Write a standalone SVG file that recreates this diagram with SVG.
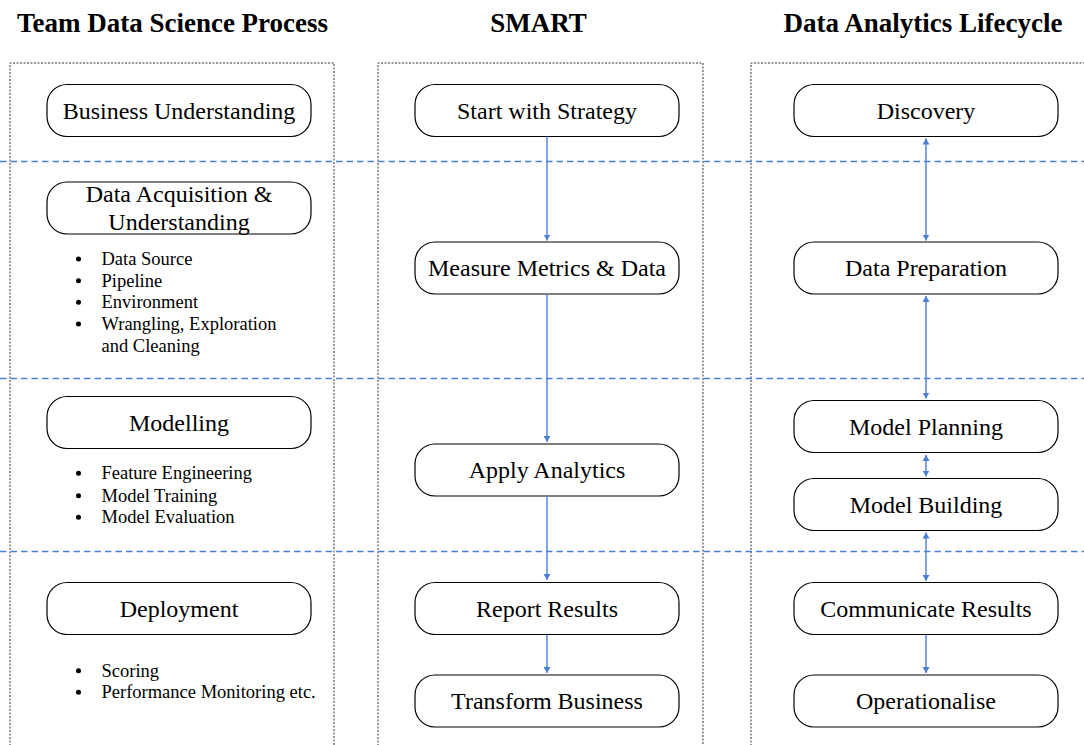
<svg xmlns="http://www.w3.org/2000/svg" width="1084" height="745" viewBox="0 0 1084 745">
<style>
.title{font-family:"Liberation Serif","Times New Roman",serif;font-weight:bold;font-size:27px;fill:#000;text-anchor:middle}
.node rect{fill:#fff;stroke:#000;stroke-width:1.2}
.node text{font-family:"Liberation Serif","Times New Roman",serif;font-size:24px;fill:#000;text-anchor:middle}
.bul{font-family:"Liberation Serif","Times New Roman",serif;font-size:18.5px;fill:#000}
.box{fill:none;stroke:#333;stroke-width:1;stroke-dasharray:2 1.5}
.sep{stroke:#4a7fd6;stroke-width:1.4;stroke-dasharray:6.5 4;fill:none}
.conn line{stroke:#4a7fd6;stroke-width:1.4;fill:none}
.dot{fill:#000}
</style>
<defs>
<marker id="ah" markerUnits="userSpaceOnUse" markerWidth="7" markerHeight="8" refX="6" refY="3.5" orient="auto-start-reverse" viewBox="0 0 7 7">
<path d="M0,0 L6,3.5 L0,7 z" fill="#4a7fd6"/>
</marker>
</defs>

<g id="titles">
<text class="title" x="172.5" y="32">Team Data Science Process</text>
<text class="title" x="538.5" y="32">SMART</text>
<text class="title" x="923" y="32">Data Analytics Lifecycle</text>
</g>

<g id="containers">
<path class="box" d="M10,760 V63 H334 V760"/>
<path class="box" d="M378,760 V63 H703 V760"/>
<path class="box" d="M751,760 V63 H1100"/>
</g>

<g id="separators">
<line class="sep" x1="0" y1="161.5" x2="1084" y2="161.5"/>
<line class="sep" x1="0" y1="378.5" x2="1084" y2="378.5"/>
<line class="sep" x1="0" y1="551.5" x2="1084" y2="551.5"/>
</g>

<g id="tdsp-business" class="node"><rect x="47" y="84.5" width="264" height="52" rx="20"/><text x="179" y="118.5">Business Understanding</text></g>
<g id="tdsp-data" class="node"><rect x="47" y="182" width="264" height="52" rx="20"/><text x="179" y="202">Data Acquisition &amp;</text><text x="179" y="230">Understanding</text></g>
<g id="tdsp-data-bullets">
<circle class="dot" cx="78.5" cy="259" r="2.5"/><text class="bul" x="101.5" y="265">Data Source</text>
<circle class="dot" cx="78.5" cy="280.7" r="2.5"/><text class="bul" x="101.5" y="286.7">Pipeline</text>
<circle class="dot" cx="78.5" cy="302.3" r="2.5"/><text class="bul" x="101.5" y="308.3">Environment</text>
<circle class="dot" cx="78.5" cy="324" r="2.5"/><text class="bul" x="101.5" y="330">Wrangling, Exploration</text>
<text class="bul" x="101.5" y="352">and Cleaning</text>
</g>
<g id="tdsp-modelling" class="node"><rect x="47" y="396.5" width="264" height="52" rx="20"/><text x="179" y="430.5">Modelling</text></g>
<g id="tdsp-modelling-bullets">
<circle class="dot" cx="78.5" cy="473.3" r="2.5"/><text class="bul" x="101.5" y="479.3">Feature Engineering</text>
<circle class="dot" cx="78.5" cy="495.7" r="2.5"/><text class="bul" x="101.5" y="501.7">Model Training</text>
<circle class="dot" cx="78.5" cy="517.3" r="2.5"/><text class="bul" x="101.5" y="523.3">Model Evaluation</text>
</g>
<g id="tdsp-deployment" class="node"><rect x="47" y="582.5" width="264" height="52" rx="20"/><text x="179" y="616.5">Deployment</text></g>
<g id="tdsp-deployment-bullets">
<circle class="dot" cx="78.5" cy="670.7" r="2.5"/><text class="bul" x="101.5" y="676.7">Scoring</text>
<circle class="dot" cx="78.5" cy="692.3" r="2.5"/><text class="bul" x="101.5" y="698.3">Performance Monitoring etc.</text>
</g>

<g id="smart-start" class="node"><rect x="415" y="84.5" width="264" height="52" rx="20"/><text x="547" y="118.5">Start with Strategy</text></g>
<g id="smart-measure" class="node"><rect x="415" y="242" width="264" height="52" rx="20"/><text x="547" y="276">Measure Metrics &amp; Data</text></g>
<g id="smart-apply" class="node"><rect x="415" y="444" width="264" height="52" rx="20"/><text x="547" y="478">Apply Analytics</text></g>
<g id="smart-report" class="node"><rect x="415" y="582.5" width="264" height="52" rx="20"/><text x="547" y="616.5">Report Results</text></g>
<g id="smart-transform" class="node"><rect x="415" y="675" width="264" height="52" rx="20"/><text x="547" y="709">Transform Business</text></g>

<g id="dal-discovery" class="node"><rect x="794" y="84.5" width="264" height="52" rx="20"/><text x="926" y="118.5">Discovery</text></g>
<g id="dal-prep" class="node"><rect x="794" y="242" width="264" height="52" rx="20"/><text x="926" y="276">Data Preparation</text></g>
<g id="dal-planning" class="node"><rect x="794" y="400.5" width="264" height="52" rx="20"/><text x="926" y="434.5">Model Planning</text></g>
<g id="dal-building" class="node"><rect x="794" y="478.5" width="264" height="52" rx="20"/><text x="926" y="512.5">Model Building</text></g>
<g id="dal-communicate" class="node"><rect x="794" y="582.5" width="264" height="52" rx="20"/><text x="926" y="616.5">Communicate Results</text></g>
<g id="dal-operationalise" class="node"><rect x="794" y="675" width="264" height="52" rx="20"/><text x="926" y="709">Operationalise</text></g>

<g id="connectors" class="conn">
<line x1="547" y1="136.5" x2="547" y2="240.5" marker-end="url(#ah)"/>
<line x1="547" y1="294" x2="547" y2="442" marker-end="url(#ah)"/>
<line x1="547" y1="496" x2="547" y2="580" marker-end="url(#ah)"/>
<line x1="547" y1="634.5" x2="547" y2="673" marker-end="url(#ah)"/>
<line x1="926" y1="138.5" x2="926" y2="240.5" marker-start="url(#ah)" marker-end="url(#ah)"/>
<line x1="926" y1="296" x2="926" y2="398.5" marker-start="url(#ah)" marker-end="url(#ah)"/>
<line x1="926" y1="455" x2="926" y2="476.5" marker-start="url(#ah)" marker-end="url(#ah)"/>
<line x1="926" y1="532.5" x2="926" y2="581" marker-start="url(#ah)" marker-end="url(#ah)"/>
<line x1="926" y1="634.5" x2="926" y2="673" marker-end="url(#ah)"/>
</g>
</svg>
